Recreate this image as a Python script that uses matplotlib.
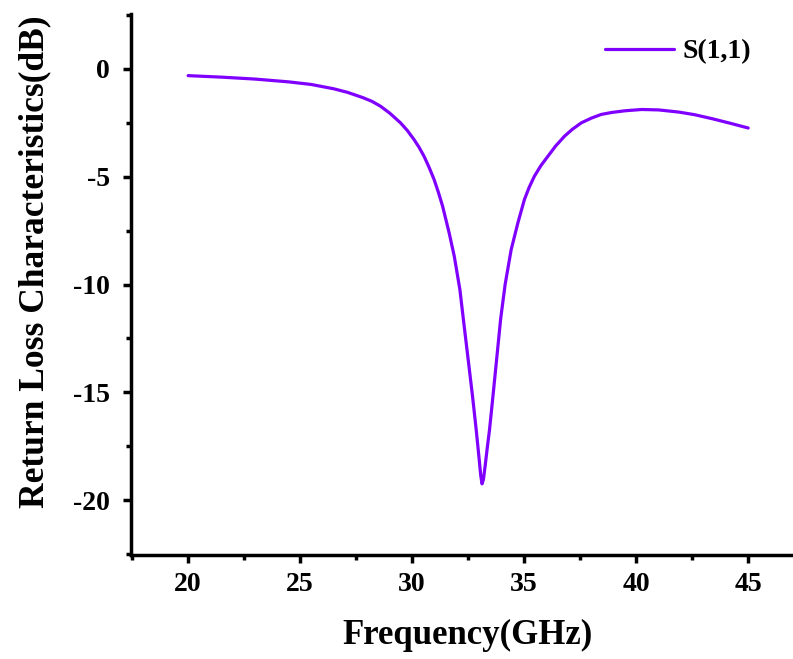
import matplotlib
matplotlib.use("Agg")
import matplotlib.pyplot as plt
from matplotlib.ticker import MultipleLocator

freq = [20.0, 21.5, 23.0, 24.5, 25.5, 26.5, 27.1, 27.8, 28.2, 28.59, 29.0, 29.48, 29.78,
        30.08, 30.3, 30.53, 30.75, 30.98, 31.17, 31.36, 31.65, 31.88, 32.13, 32.33, 32.52,
        32.70, 32.86, 33.00, 33.06, 33.12, 33.18, 33.26, 33.35, 33.45, 33.60, 33.75, 33.95,
        34.15, 34.42, 34.72, 35.01, 35.22, 35.46, 35.75, 36.06, 36.4, 36.8, 37.15, 37.55,
        38.0, 38.44, 38.9, 39.5, 40.25, 41.0, 41.9, 42.6, 43.4, 44.2, 45.0]
s11 = [-0.31, -0.38, -0.47, -0.60, -0.72, -0.92, -1.08, -1.33, -1.50, -1.73, -2.05, -2.50, -2.85,
       -3.27, -3.62, -4.05, -4.55, -5.13, -5.72, -6.37, -7.60, -8.69, -10.23, -12.00, -13.65,
       -15.23, -16.75, -18.20, -18.85, -19.25, -19.05, -18.40, -17.60, -16.77, -15.25, -13.69, -11.60,
       -10.00, -8.38, -7.14, -6.06, -5.50, -4.97, -4.48, -4.05, -3.58, -3.12, -2.80, -2.50,
       -2.28, -2.11, -2.02, -1.94, -1.88, -1.90, -2.00, -2.12, -2.31, -2.52, -2.74]

series_label = "S(1,1)"
x_ticks = [20, 25, 30, 35, 40, 45]
y_ticks = [0, -5, -10, -15, -20]

plt.rcParams['font.family'] = ['Liberation Serif', 'DejaVu Serif']
plt.rcParams['font.weight'] = 'bold'
plt.rcParams['axes.unicode_minus'] = False

fig = plt.figure(figsize=(7.93, 6.59), dpi=100)
ax = fig.add_axes([131/793, 1 - 555/659, 1 - 131/793, (555 - 14)/659])

ax.plot(freq, s11, color='#8000FF', lw=2.3, label=series_label,
        solid_capstyle='round', solid_joinstyle='round')

ax.set_xlim(17.45, 47.0)
ax.set_ylim(-22.55, 2.55)
ax.set_xticks(x_ticks)
ax.set_yticks(y_ticks)
ax.xaxis.set_minor_locator(MultipleLocator(2.5))
ax.yaxis.set_minor_locator(MultipleLocator(2.5))

for side in ['top', 'right']:
    ax.spines[side].set_visible(False)
for side in ['left', 'bottom']:
    ax.spines[side].set_linewidth(2.5)

ax.tick_params(which='major', direction='out', length=6, width=2.5, labelsize=20)
ax.tick_params(which='minor', direction='out', length=3.5, width=2.5)
ax.tick_params(axis='x', which='major', pad=6)
ax.tick_params(axis='y', which='major', pad=9)
for lab in ax.get_xticklabels() + ax.get_yticklabels():
    lab.set_fontweight('bold')

ax.set_xlabel('Frequency(GHz)', fontsize=25, fontweight='bold')
ax.set_ylabel('Return Loss Characteristics(dB)', fontsize=25.5, fontweight='bold')
ax.xaxis.set_label_coords(0.509, -0.118)
ax.yaxis.set_label_coords(-0.12, 0.542)

leg = ax.legend(loc='upper right', frameon=False, fontsize=20, handlelength=2.5,
                handletextpad=0.3, bbox_to_anchor=(0.975, 1.0))
for t in leg.get_texts():
    t.set_fontweight('bold')

fig.savefig('out.png', dpi=100)
